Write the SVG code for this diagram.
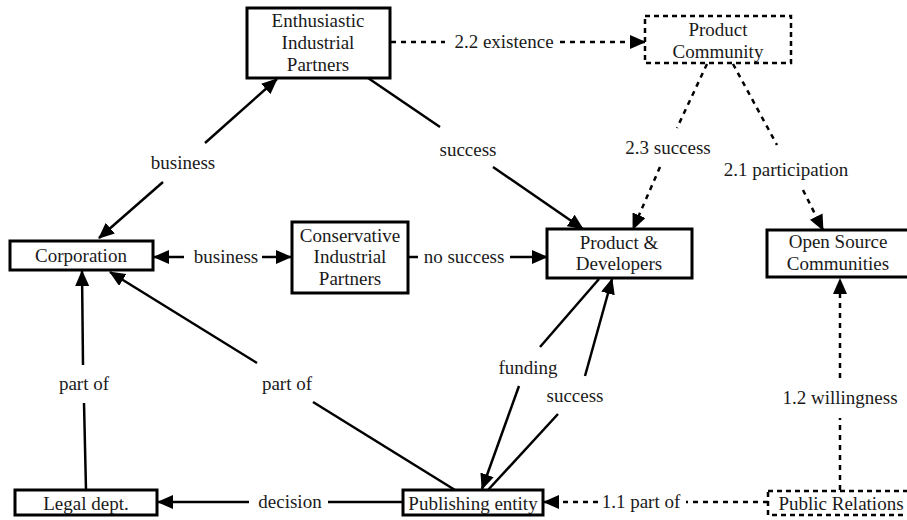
<svg xmlns="http://www.w3.org/2000/svg" width="907" height="520" viewBox="0 0 907 520">
<defs>
<marker id="ah" markerUnits="userSpaceOnUse" markerWidth="16" markerHeight="14" refX="15" refY="7" orient="auto">
<path d="M0,0 L16,7 L0,14 z" fill="#000"/>
</marker>
<style>
text{font-family:"Liberation Serif","Times New Roman",serif;font-size:19px;fill:#1a1a1a;text-anchor:middle}
.box{fill:#fff;stroke:#000;stroke-width:3}
.dbox{fill:#fff;stroke:#000;stroke-width:2.5;stroke-dasharray:5 4}
.ln{fill:none;stroke:#000;stroke-width:2.5}
.dl{fill:none;stroke:#000;stroke-width:2.5;stroke-dasharray:5 5}
.arr{marker-end:url(#ah)}
</style>
</defs>
<rect width="907" height="520" fill="#fff"/>
<g id="connectors">
<line class="ln arr" x1="163" y1="182" x2="99" y2="238"/>
<line class="ln arr" x1="205" y1="143" x2="277" y2="79"/>
<text x="183" y="169">business</text>
<line class="ln" x1="368" y1="78" x2="440" y2="127"/>
<line class="ln arr" x1="493" y1="167" x2="583" y2="229"/>
<text x="468" y="156">success</text>
<line class="dl" x1="391" y1="42" x2="445" y2="42"/>
<line class="dl arr" x1="560" y1="42" x2="645" y2="42"/>
<text x="504" y="48">2.2 existence</text>
<line class="dl" x1="707" y1="64" x2="677" y2="128"/>
<line class="dl arr" x1="660" y1="167" x2="633" y2="229"/>
<text x="668" y="154">2.3 success</text>
<line class="dl" x1="733" y1="64" x2="777" y2="145"/>
<line class="dl arr" x1="803" y1="190" x2="823" y2="230"/>
<text x="786" y="176">2.1 participation</text>
<line class="ln arr" x1="184" y1="257" x2="154" y2="257"/>
<line class="ln arr" x1="262" y1="257" x2="291" y2="257"/>
<text x="226" y="263">business</text>
<line class="ln" x1="409" y1="257" x2="418" y2="257"/>
<line class="ln arr" x1="510" y1="257" x2="547" y2="257"/>
<text x="464" y="263">no success</text>
<line class="ln" x1="599" y1="279" x2="540" y2="347"/>
<line class="ln arr" x1="519" y1="386" x2="482" y2="489"/>
<text x="528" y="374">funding</text>
<line class="ln" x1="488" y1="490" x2="558" y2="414"/>
<line class="ln arr" x1="585" y1="376" x2="612" y2="279"/>
<text x="575" y="402">success</text>
<line class="ln" x1="455" y1="490" x2="313" y2="402"/>
<line class="ln arr" x1="257" y1="363" x2="110" y2="272"/>
<text x="287" y="390">part of</text>
<line class="ln" x1="86" y1="490" x2="84" y2="403"/>
<line class="ln arr" x1="83" y1="365" x2="82" y2="271"/>
<text x="84" y="390">part of</text>
<line class="ln" x1="403" y1="502" x2="328" y2="502"/>
<line class="ln arr" x1="249" y1="502" x2="158" y2="502"/>
<text x="290" y="508">decision</text>
<line class="dl" x1="768" y1="502" x2="686" y2="502"/>
<line class="dl arr" x1="598" y1="502" x2="544" y2="502"/>
<text x="641" y="508">1.1 part of</text>
<line class="dl" x1="840" y1="490" x2="840" y2="418"/>
<line class="dl arr" x1="840" y1="378" x2="840" y2="279"/>
<text x="840" y="404">1.2 willingness</text>
</g>
<g id="enthusiastic">
<rect class="box" x="247" y="8" width="143" height="70"/>
<text x="318" y="27">Enthusiastic</text>
<text x="318" y="49">Industrial</text>
<text x="318" y="71">Partners</text>
</g>
<g id="product-community">
<rect class="dbox" x="645" y="16" width="146" height="47"/>
<text x="718" y="36">Product</text>
<text x="718" y="58">Community</text>
</g>
<g id="corporation">
<rect class="box" x="10" y="241" width="143" height="29"/>
<text x="81" y="262">Corporation</text>
</g>
<g id="conservative">
<rect class="box" x="292" y="222" width="116" height="71"/>
<text x="350" y="242">Conservative</text>
<text x="350" y="263">Industrial</text>
<text x="350" y="285">Partners</text>
</g>
<g id="product-developers">
<rect class="box" x="547" y="229" width="145" height="49"/>
<text x="619" y="249">Product &amp;</text>
<text x="619" y="270">Developers</text>
</g>
<g id="open-source">
<rect class="box" x="767" y="230" width="150" height="47"/>
<text x="838" y="248">Open Source</text>
<text x="838" y="270">Communities</text>
</g>
<g id="legal">
<rect class="box" x="15" y="490" width="142" height="25"/>
<text x="86" y="510">Legal dept.</text>
</g>
<g id="publishing">
<rect class="box" x="403" y="490" width="140" height="25"/>
<text x="473" y="510">Publishing entity</text>
</g>
<g id="public-relations">
<rect class="dbox" x="768" y="491" width="150" height="24"/>
<text x="841" y="510">Public Relations</text>
</g>
</svg>
